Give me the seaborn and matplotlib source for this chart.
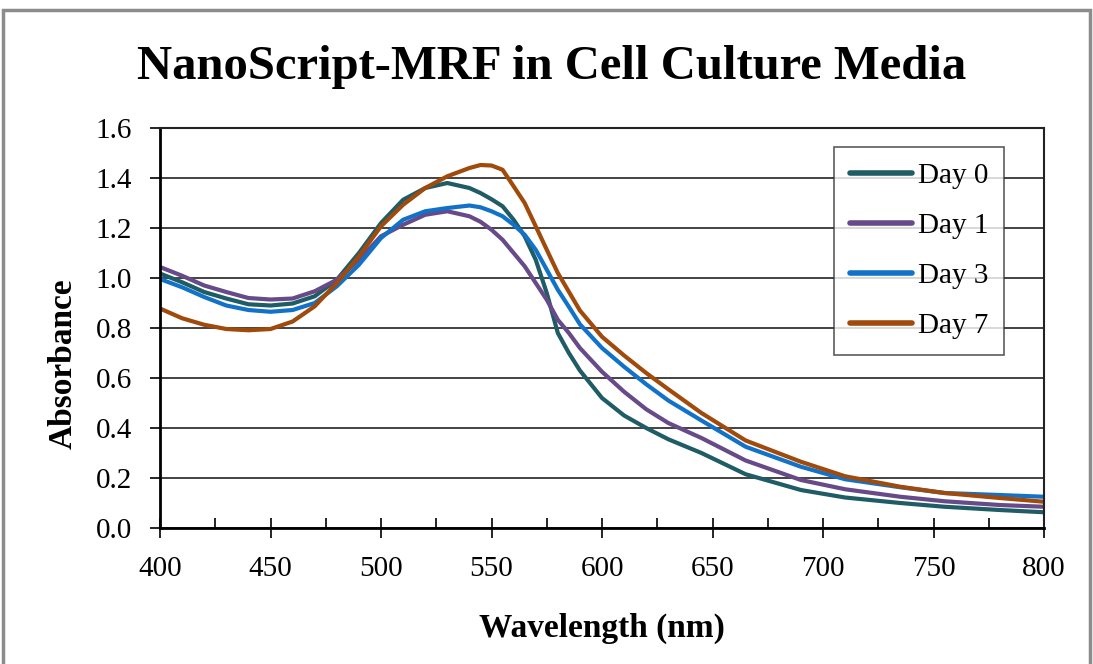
import matplotlib
matplotlib.use("Agg")
import matplotlib.pyplot as plt
import seaborn as sns
import pandas as pd
from matplotlib.patches import Rectangle
from matplotlib.ticker import MultipleLocator

wavelength = [400, 410, 420, 430, 440, 450, 460, 470, 480, 490, 500, 510, 520, 530, 540, 545,
              550, 555, 560, 565, 570, 575, 580, 585, 590, 600, 610, 620, 630, 645, 665, 690,
              710, 735, 755, 780, 800]

day0 = [1.018, 0.983, 0.944, 0.918, 0.895, 0.890, 0.898, 0.927, 0.993, 1.100, 1.220, 1.313,
        1.360, 1.380, 1.360, 1.340, 1.315, 1.287, 1.233, 1.167, 1.073, 0.940, 0.780, 0.700,
        0.630, 0.520, 0.450, 0.400, 0.355, 0.300, 0.215, 0.152, 0.122, 0.100, 0.085, 0.072,
        0.063]
day1 = [1.044, 1.009, 0.970, 0.944, 0.920, 0.914, 0.918, 0.947, 0.993, 1.073, 1.167, 1.213,
        1.253, 1.267, 1.247, 1.225, 1.193, 1.153, 1.100, 1.047, 0.980, 0.913, 0.833, 0.780,
        0.720, 0.625, 0.545, 0.475, 0.420, 0.360, 0.270, 0.192, 0.155, 0.125, 0.107, 0.092,
        0.085]
day3 = [0.996, 0.963, 0.924, 0.890, 0.872, 0.865, 0.872, 0.900, 0.967, 1.053, 1.160, 1.233,
        1.267, 1.280, 1.290, 1.283, 1.267, 1.247, 1.213, 1.173, 1.113, 1.033, 0.953, 0.885,
        0.815, 0.720, 0.645, 0.575, 0.510, 0.430, 0.325, 0.245, 0.195, 0.163, 0.140, 0.132,
        0.125]
day7 = [0.878, 0.839, 0.813, 0.796, 0.791, 0.796, 0.826, 0.887, 0.980, 1.087, 1.207, 1.293,
        1.360, 1.407, 1.440, 1.452, 1.450, 1.433, 1.367, 1.300, 1.207, 1.113, 1.020, 0.945,
        0.870, 0.765, 0.690, 0.620, 0.555, 0.460, 0.350, 0.265, 0.207, 0.165, 0.140, 0.120,
        0.105]

series_names = ["Day 0", "Day 1", "Day 3", "Day 7"]
series_vals = [day0, day1, day3, day7]
colors = ["#1F5C66", "#674A88", "#1272C8", "#A04A0C"]

title = "NanoScript-MRF in Cell Culture Media"
xlabel = "Wavelength (nm)"
ylabel = "Absorbance"

rows = []
for name, vals in zip(series_names, series_vals):
    for w, v in zip(wavelength, vals):
        rows.append({"Wavelength": w, "Absorbance": v, "Series": name})
df = pd.DataFrame(rows)

sns.set_theme(style="white")
plt.rcParams["font.family"] = ["Liberation Serif", "DejaVu Serif"]
plt.rcParams["text.color"] = "black"
plt.rcParams["axes.labelcolor"] = "black"
plt.rcParams["xtick.color"] = "black"
plt.rcParams["ytick.color"] = "black"

fig = plt.figure(figsize=(10.93, 6.64), dpi=100)
ax = fig.add_axes([0.1464, 0.2048, 0.8088, 0.6024])

sns.lineplot(data=df, x="Wavelength", y="Absorbance", hue="Series",
             palette=dict(zip(series_names, colors)), linewidth=3.0, ax=ax,
             legend=True)

ax.set_xlim(400, 800)
ax.set_ylim(0, 1.6)
ax.xaxis.set_major_locator(MultipleLocator(50))
ax.xaxis.set_minor_locator(MultipleLocator(25))
ax.yaxis.set_major_locator(MultipleLocator(0.2))
ax.set_yticklabels([f"{v:.1f}" for v in ax.get_yticks()])
ax.grid(True, axis="y", color="#222222", linewidth=1.2)
ax.grid(False, axis="x")
ax.set_axisbelow(True)

for s in ["left", "bottom"]:
    ax.spines[s].set_color("black")
    ax.spines[s].set_linewidth(2.0)
for s in ["top", "right"]:
    ax.spines[s].set_color("#222222")
    ax.spines[s].set_linewidth(1.5)

ax.tick_params(axis="x", which="major", direction="inout", length=14, width=1.2,
               color="black", labelsize=21, pad=13, bottom=True)
ax.tick_params(axis="x", which="minor", direction="in", length=7, width=1.2,
               color="black", bottom=True)
ax.tick_params(axis="y", which="major", direction="out", length=7, width=1.2,
               color="black", labelsize=21, pad=13, left=True)

ax.set_xlabel(xlabel, fontsize=24, fontweight="bold", labelpad=22)
ax.set_ylabel(ylabel, fontsize=24, fontweight="bold", labelpad=12, y=0.41)

fig.text(0.505, 0.899, title, ha="center", va="center", fontsize=35, fontweight="bold")

leg = ax.legend(loc="upper right", bbox_to_anchor=(0.9548, 0.9525), borderaxespad=0,
                fontsize=21, frameon=True, fancybox=False, edgecolor="#333333",
                handlelength=2.1, handletextpad=0.2, labelspacing=0.8,
                borderpad=0.55)
leg.get_frame().set_linewidth(1.2)
for line in leg.get_lines():
    line.set_linewidth(4)
    line.set_solid_capstyle("round")

fig.patches.append(Rectangle((0.003, -0.05), 0.994, 1.035, transform=fig.transFigure,
                             fill=False, edgecolor="#8c8c8c", linewidth=2.5))

fig.savefig("out.png", dpi=100, facecolor="white")
